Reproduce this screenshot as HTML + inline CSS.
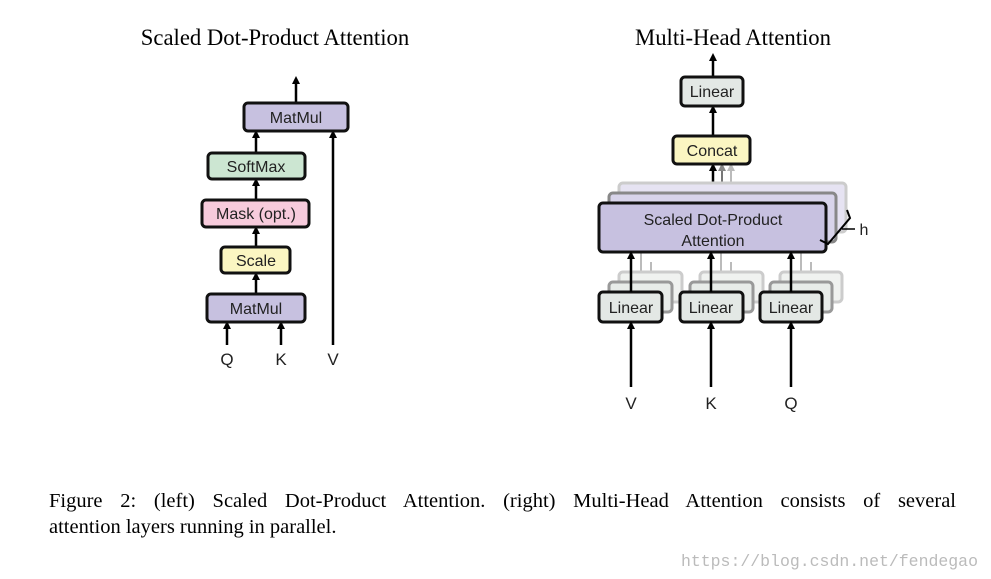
<!DOCTYPE html>
<html><head><style>
body{margin:0;background:#fff;width:991px;height:579px;overflow:hidden;}
svg{position:absolute;left:0;top:0}
.cap{position:absolute;left:49px;width:907px;font:20.5px "Liberation Serif",serif;color:#000;white-space:nowrap}
.l1{top:490px;text-align:justify;text-align-last:justify}
.l2{top:516px}
</style></head><body>
<svg width="991" height="579" viewBox="0 0 991 579" font-family="Liberation Sans, sans-serif">
<defs><marker id="a" markerWidth="8" markerHeight="8" refX="4" refY="4" orient="auto" markerUnits="userSpaceOnUse"><path d="M0,0 L8,4 L0,8 Z" fill="#000"/></marker>
<marker id="g" markerWidth="8" markerHeight="8" refX="4" refY="4" orient="auto" markerUnits="userSpaceOnUse"><path d="M0,0 L8,4 L0,8 Z" fill="#888"/></marker>
<marker id="g2" markerWidth="8" markerHeight="8" refX="4" refY="4" orient="auto" markerUnits="userSpaceOnUse"><path d="M0,0 L8,4 L0,8 Z" fill="#bbb"/></marker></defs>
<g font-family="Liberation Serif, serif" font-size="22.7" text-anchor="middle">
<text x="275" y="45">Scaled Dot-Product Attention</text>
<text x="733" y="45">Multi-Head Attention</text></g>
<g stroke="#000" stroke-width="2.5" marker-end="url(#a)">
<line x1="296" y1="103" x2="296" y2="80"/>
<line x1="256" y1="153" x2="256" y2="134"/>
<line x1="256" y1="200" x2="256" y2="182"/>
<line x1="256" y1="247" x2="256" y2="230"/>
<line x1="256" y1="294" x2="256" y2="276"/>
<line x1="333" y1="345" x2="333" y2="134"/>
<line x1="227" y1="345" x2="227" y2="325"/>
<line x1="281" y1="345" x2="281" y2="325"/>
</g>
<g stroke="#111" stroke-width="3">
<rect x="244" y="103" width="104" height="28" rx="4" fill="#c7c1e0"/>
<rect x="208" y="153" width="97" height="26" rx="4" fill="#cce6d2"/>
<rect x="202" y="200" width="107" height="27" rx="4" fill="#f7cbdc"/>
<rect x="221" y="247" width="69" height="26" rx="4" fill="#fbf6c2"/>
<rect x="207" y="294" width="98" height="28" rx="4" fill="#c7c1e0"/>
</g>
<g font-size="16" text-anchor="middle" fill="#222">
<text x="296" y="123">MatMul</text><text x="256" y="172">SoftMax</text>
<text x="256" y="219">Mask (opt.)</text><text x="256" y="266">Scale</text>
<text x="256" y="314">MatMul</text>
<text x="227" y="365" font-size="17">Q</text><text x="281" y="365" font-size="17">K</text><text x="333" y="365" font-size="17">V</text>
</g>
<!-- right -->
<g stroke="#000" stroke-width="2.5" marker-end="url(#a)">
<line x1="713" y1="77" x2="713" y2="57"/>
<line x1="713" y1="136" x2="713" y2="109"/>
<line x1="713" y1="203" x2="713" y2="167"/>
</g>
<line x1="722" y1="183" x2="722" y2="167" stroke="#777" stroke-width="2" marker-end="url(#g)"/>
<line x1="731" y1="183" x2="731" y2="167" stroke="#bbb" stroke-width="2" marker-end="url(#g2)"/>
<rect x="619" y="183" width="227" height="49" rx="4" fill="#e6e3f2" stroke="#ccc" stroke-width="3"/>
<rect x="609" y="193" width="227" height="49" rx="4" fill="#d8d4ea" stroke="#888" stroke-width="3"/>
<g stroke="#bbb" stroke-width="2"><line x1="651" y1="292" x2="651" y2="262"/><line x1="731" y1="292" x2="731" y2="262"/><line x1="811" y1="292" x2="811" y2="262"/>
<line x1="641" y1="292" x2="641" y2="252"/><line x1="721" y1="292" x2="721" y2="252"/><line x1="801" y1="292" x2="801" y2="252"/></g>
<g stroke="#ccc" stroke-width="3" fill="#f0f2f0">
<rect x="619" y="272" width="63" height="30" rx="4"/><rect x="700" y="272" width="63" height="30" rx="4"/><rect x="780" y="272" width="62" height="30" rx="4"/></g>
<g stroke="#999" stroke-width="3" fill="#e8ece9">
<rect x="609" y="282" width="63" height="30" rx="4"/><rect x="690" y="282" width="63" height="30" rx="4"/><rect x="770" y="282" width="62" height="30" rx="4"/></g>
<g stroke="#111" stroke-width="3">
<rect x="681" y="77" width="62" height="29" rx="4" fill="#e3e8e5"/>
<rect x="673" y="136" width="77" height="28" rx="4" fill="#fbf6c2"/>
<rect x="599" y="203" width="227" height="49" rx="4" fill="#c7c1e0"/>
<rect x="599" y="292" width="63" height="30" rx="4" fill="#e3e8e5"/>
<rect x="680" y="292" width="63" height="30" rx="4" fill="#e3e8e5"/>
<rect x="760" y="292" width="62" height="30" rx="4" fill="#e3e8e5"/>
</g>
<g stroke="#000" stroke-width="2.5" marker-end="url(#a)">
<line x1="631" y1="292" x2="631" y2="255"/><line x1="711" y1="292" x2="711" y2="255"/><line x1="791" y1="292" x2="791" y2="255"/>
<line x1="631" y1="387" x2="631" y2="325"/><line x1="711" y1="387" x2="711" y2="325"/><line x1="791" y1="387" x2="791" y2="325"/>
</g>
<path d="M847,210 L850,218 L828,244 L820,240" fill="none" stroke="#000" stroke-width="2"/>
<line x1="842" y1="229" x2="855" y2="229" stroke="#000" stroke-width="1.5"/>
<g font-size="16" text-anchor="middle" fill="#222">
<text x="712" y="97">Linear</text><text x="712" y="156">Concat</text>
<text x="713" y="225">Scaled Dot-Product</text><text x="713" y="246">Attention</text>
<text x="631" y="313">Linear</text><text x="711" y="313">Linear</text><text x="791" y="313">Linear</text>
<text x="864" y="235">h</text>
<text x="631" y="409" font-size="17">V</text><text x="711" y="409" font-size="17">K</text><text x="791" y="409" font-size="17">Q</text>
</g>
<text x="978" y="566" text-anchor="end" font-family="Liberation Mono, monospace" font-size="16.5" fill="#bbb">https://blog.csdn.net/fendegao</text>
</svg>
<div class="cap l1">Figure 2: (left) Scaled Dot-Product Attention. (right) Multi-Head Attention consists of several</div>
<div class="cap l2">attention layers running in parallel.</div>
</body></html>
